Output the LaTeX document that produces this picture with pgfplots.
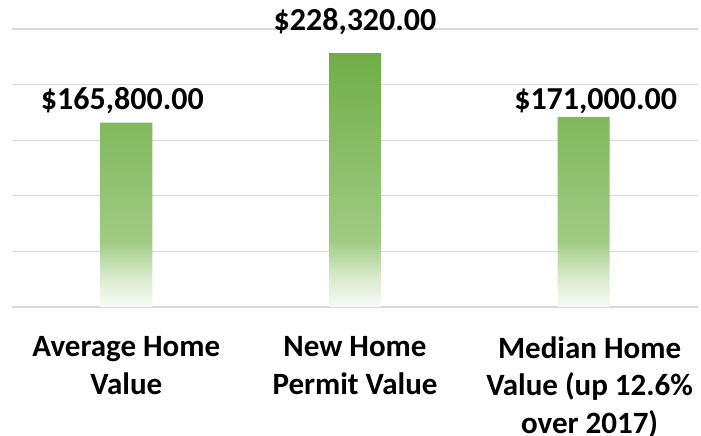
\documentclass[border=0pt]{standalone}
\usepackage{pgfplots}
\usepackage{pgfplotstable}
\pgfplotsset{compat=1.18}
\usepackage{fontspec}
\setmainfont{Carlito}
\definecolor{bargreen}{HTML}{70AD47}
\definecolor{barlight}{HTML}{A0CB83}
\definecolor{barpale}{HTML}{D8EACB}
\definecolor{barwhite}{HTML}{F8FBF6}
\definecolor{gridgray}{HTML}{D9D9D9}
\definecolor{basegray}{HTML}{D0D0D0}
\pgfdeclareverticalshading{barfade}{100bp}{color(0bp)=(barwhite); color(25bp)=(barwhite); color(31bp)=(barpale); color(38bp)=(barlight); color(75bp)=(bargreen); color(100bp)=(bargreen)}
\pgfplotstableread{
x y xoff yoff
0 165800 -4 13
1 228320 0 23
2 171000 12 7
}\datatable
\begin{document}
\begin{tikzpicture}
\useasboundingbox (0,0) rectangle (701pt,436pt);
\begin{axis}[
  at={(12pt,129pt)}, anchor=south west,
  scale only axis, width=686pt, height=278pt,
  xmin=-0.5, xmax=2.5, ymin=0, ymax=250000,
  scaled y ticks=false,
  axis line style={draw=none},
  tick style={draw=none},
  major tick length=0pt,
  xtick={0,1,2.026},
  xticklabels={{Average Home\\Value},{New Home\\Permit Value},{Median Home\\Value (up 12.6\%\\over 2017)}},
  xticklabel style={align=center, anchor=north, yshift=-26pt, font=\fontsize{31}{37.5}\selectfont\bfseries, text=black},
  ytick={50000,100000,150000,200000,250000},
  yticklabels={},
  ymajorgrids,
  major grid style={color=gridgray, line width=1.1pt},
  extra y ticks={0},
  extra y tick labels={},
  extra y tick style={grid style={color=basegray, line width=1.8pt}},
  clip=false,
]
\addplot[ybar, bar width=52pt, draw=none, shading=barfade,
  visualization depends on={\thisrow{xoff} \as \lxoff},
  visualization depends on={\thisrow{yoff} \as \lyoff},
  nodes near coords={\$\pgfmathprintnumber[fixed, fixed zerofill, precision=2, 1000 sep={,}, assume math mode=true]{\pgfplotspointmeta}},
  nodes near coords style={anchor=base, xshift=\lxoff pt, yshift=\lyoff pt, font=\fontsize{32}{38}\selectfont\bfseries, text=black}
] table[x=x, y=y] {\datatable};
\end{axis}
\end{tikzpicture}
\end{document}
